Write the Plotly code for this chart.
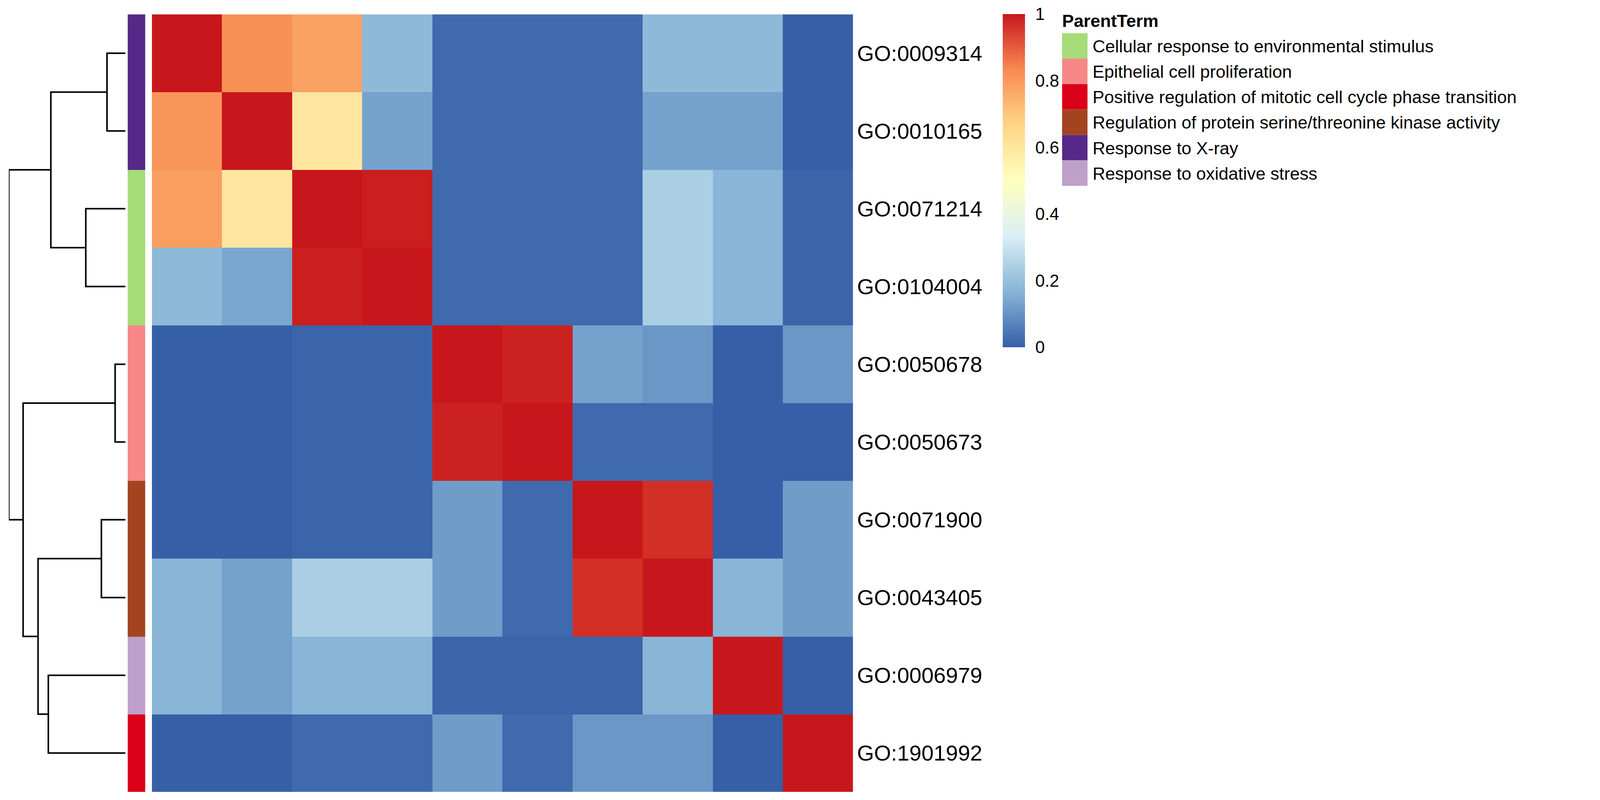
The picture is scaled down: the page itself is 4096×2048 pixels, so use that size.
import plotly.graph_objects as go

W, H = 4096, 2048
FONT = "Liberation Sans, Arial, sans-serif"

# ---------------- data ----------------
row_ids = ["GO:0009314", "GO:0010165", "GO:0071214", "GO:0104004", "GO:0050678",
           "GO:0050673", "GO:0071900", "GO:0043405", "GO:0006979", "GO:1901992"]

sim = [
    [1.00, 0.82, 0.78, 0.18, 0.02, 0.02, 0.02, 0.18, 0.18, 0.00],
    [0.81, 1.00, 0.60, 0.13, 0.02, 0.02, 0.02, 0.13, 0.13, 0.00],
    [0.79, 0.60, 1.00, 0.99, 0.02, 0.02, 0.02, 0.24, 0.17, 0.01],
    [0.18, 0.14, 0.99, 1.00, 0.02, 0.02, 0.02, 0.24, 0.17, 0.01],
    [0.00, 0.00, 0.01, 0.01, 1.00, 0.985, 0.13, 0.11, 0.00, 0.11],
    [0.00, 0.00, 0.01, 0.01, 0.985, 1.00, 0.02, 0.02, 0.00, 0.00],
    [0.00, 0.00, 0.01, 0.01, 0.12, 0.02, 1.00, 0.965, 0.00, 0.12],
    [0.17, 0.13, 0.24, 0.24, 0.12, 0.02, 0.965, 1.00, 0.17, 0.12],
    [0.17, 0.13, 0.17, 0.17, 0.01, 0.01, 0.01, 0.17, 1.00, 0.00],
    [0.00, 0.00, 0.02, 0.02, 0.12, 0.02, 0.11, 0.11, 0.00, 1.00],
]

parent_terms = ["Cellular response to environmental stimulus",
                "Epithelial cell proliferation",
                "Positive regulation of mitotic cell cycle phase transition",
                "Regulation of protein serine/threonine kinase activity",
                "Response to X-ray",
                "Response to oxidative stress"]
parent_colors = ["#A6DB78", "#F88787", "#DA0018", "#A34420", "#562888", "#BEA0CB"]

row_parent = ["Response to X-ray", "Response to X-ray",
              "Cellular response to environmental stimulus",
              "Cellular response to environmental stimulus",
              "Epithelial cell proliferation", "Epithelial cell proliferation",
              "Regulation of protein serine/threonine kinase activity",
              "Regulation of protein serine/threonine kinase activity",
              "Response to oxidative stress",
              "Positive regulation of mitotic cell cycle phase transition"]

# hierarchical merges: (child a, child b, height); leaves 0..9, new nodes 10..
merges = [(0, 1, 68.9), (2, 3, 148.5), (4, 5, 38.5), (6, 7, 90.0), (8, 9, 289.0),
          (10, 11, 279.5), (13, 14, 327.5), (12, 16, 383.5), (15, 17, 437.1)]

cs_stops = [0.0, 0.1667, 0.3333, 0.5, 0.6667, 0.8333, 1.0]
cs_colors = ["#3560A8", "#87B4D6", "#DAEFF5", "#FFFFBF", "#FDD688", "#F98A52", "#C8171C"]

cbar_ticks = [0, 0.2, 0.4, 0.6, 0.8, 1]
cbar_labels = ["0", "0.2", "0.4", "0.6", "0.8", "1"]

legend_title = "ParentTerm"

# ---------------- layout geometry (pixels in 4096x2048) ----------------
def px(x):
    return x / W

def py(y):
    return 1 - y / H

HM_X0, HM_X1 = 380.9, 2175.6
HM_Y0, HM_Y1 = 28.7, 2019.3
AN_X0, AN_X1 = 318.8, 363.9
DG_X0, DG_X1 = 14.6, 313.0

n = len(row_ids)

fig = go.Figure()

# main heatmap
fig.add_trace(go.Heatmap(
    z=sim, x=list(range(n)), y=list(range(n)),
    colorscale=[[s, c] for s, c in zip(cs_stops, cs_colors)],
    zmin=0, zmax=1, xaxis="x", yaxis="y", hoverinfo="skip",
    colorbar=dict(
        thickness=57, thicknessmode="pixels",
        len=853, lenmode="pixels",
        x=px(2559), xanchor="left", y=py(28), yanchor="top",
        xpad=0, ypad=0, outlinewidth=0,
        tickvals=cbar_ticks, ticktext=cbar_labels,
        ticks="outside", ticklen=18, tickcolor="rgba(0,0,0,0)",
        tickfont=dict(size=44, family=FONT, color="black"),
    ),
))

# annotation bar (ParentTerm)
codes = [[parent_terms.index(p)] for p in row_parent]
k = len(parent_terms)
disc = []
for i, c in enumerate(parent_colors):
    disc.append([i / k, c])
    disc.append([(i + 1) / k, c])
fig.add_trace(go.Heatmap(
    z=codes, x=[0], y=list(range(n)), zmin=-0.5, zmax=k - 0.5,
    colorscale=disc, showscale=False, xaxis="x2", yaxis="y", hoverinfo="skip",
))

# dendrogram
pos = {i: (0.0, float(i)) for i in range(n)}
xs, ys = [], []
for j, (a, b, h) in enumerate(merges):
    ha, ya = pos[a]
    hb, yb = pos[b]
    xs += [ha, h, h, hb, None]
    ys += [ya, ya, yb, yb, None]
    pos[n + j] = (h, (ya + yb) / 2)
fig.add_trace(go.Scatter(
    x=xs, y=ys, mode="lines", line=dict(color="black", width=4),
    xaxis="x3", yaxis="y", hoverinfo="skip", cliponaxis=False, showlegend=False,
))

root_h = max(m[2] for m in merges)

annotations = []
# row labels
for i, lab in enumerate(row_ids):
    annotations.append(dict(
        x=px(2184), xref="paper", y=i, yref="y", text=lab, showarrow=False,
        xanchor="left", yanchor="middle",
        font=dict(size=56, family=FONT, color="black"),
    ))

# legend
LG_X = 2711
SW = 65.1
annotations.append(dict(
    x=px(LG_X - 2), xref="paper", y=py(45.5), yref="paper",
    text="<b>" + legend_title + "</b>", showarrow=False,
    xanchor="left", yanchor="middle",
    font=dict(size=45, family=FONT, color="black"),
))
shapes = []
for i, (t, c) in enumerate(zip(parent_terms, parent_colors)):
    top = 77.1 + i * SW
    shapes.append(dict(
        type="rect", xref="paper", yref="paper",
        x0=px(LG_X), x1=px(LG_X + 65), y0=py(top), y1=py(top + SW),
        fillcolor=c, line=dict(width=0),
    ))
    annotations.append(dict(
        x=px(2787), xref="paper", y=py(top + SW / 2 + 1), yref="paper",
        text=t, showarrow=False, xanchor="left", yanchor="middle",
        font=dict(size=45, family=FONT, color="black"),
    ))

fig.update_layout(
    width=W, height=H, margin=dict(l=0, r=0, t=0, b=0),
    paper_bgcolor="white", plot_bgcolor="white", showlegend=False,
    xaxis=dict(domain=[px(HM_X0), px(HM_X1)], range=[-0.5, n - 0.5],
               visible=False, fixedrange=True),
    xaxis2=dict(domain=[px(AN_X0), px(AN_X1)], range=[-0.5, 0.5],
                visible=False, fixedrange=True),
    xaxis3=dict(domain=[px(DG_X0), px(DG_X1)], range=[root_h, 0],
                visible=False, fixedrange=True),
    yaxis=dict(domain=[py(HM_Y1), py(HM_Y0)], range=[n - 0.5, -0.5],
               visible=False, fixedrange=True),
    annotations=annotations, shapes=shapes,
)

fig.write_html("out.html")
